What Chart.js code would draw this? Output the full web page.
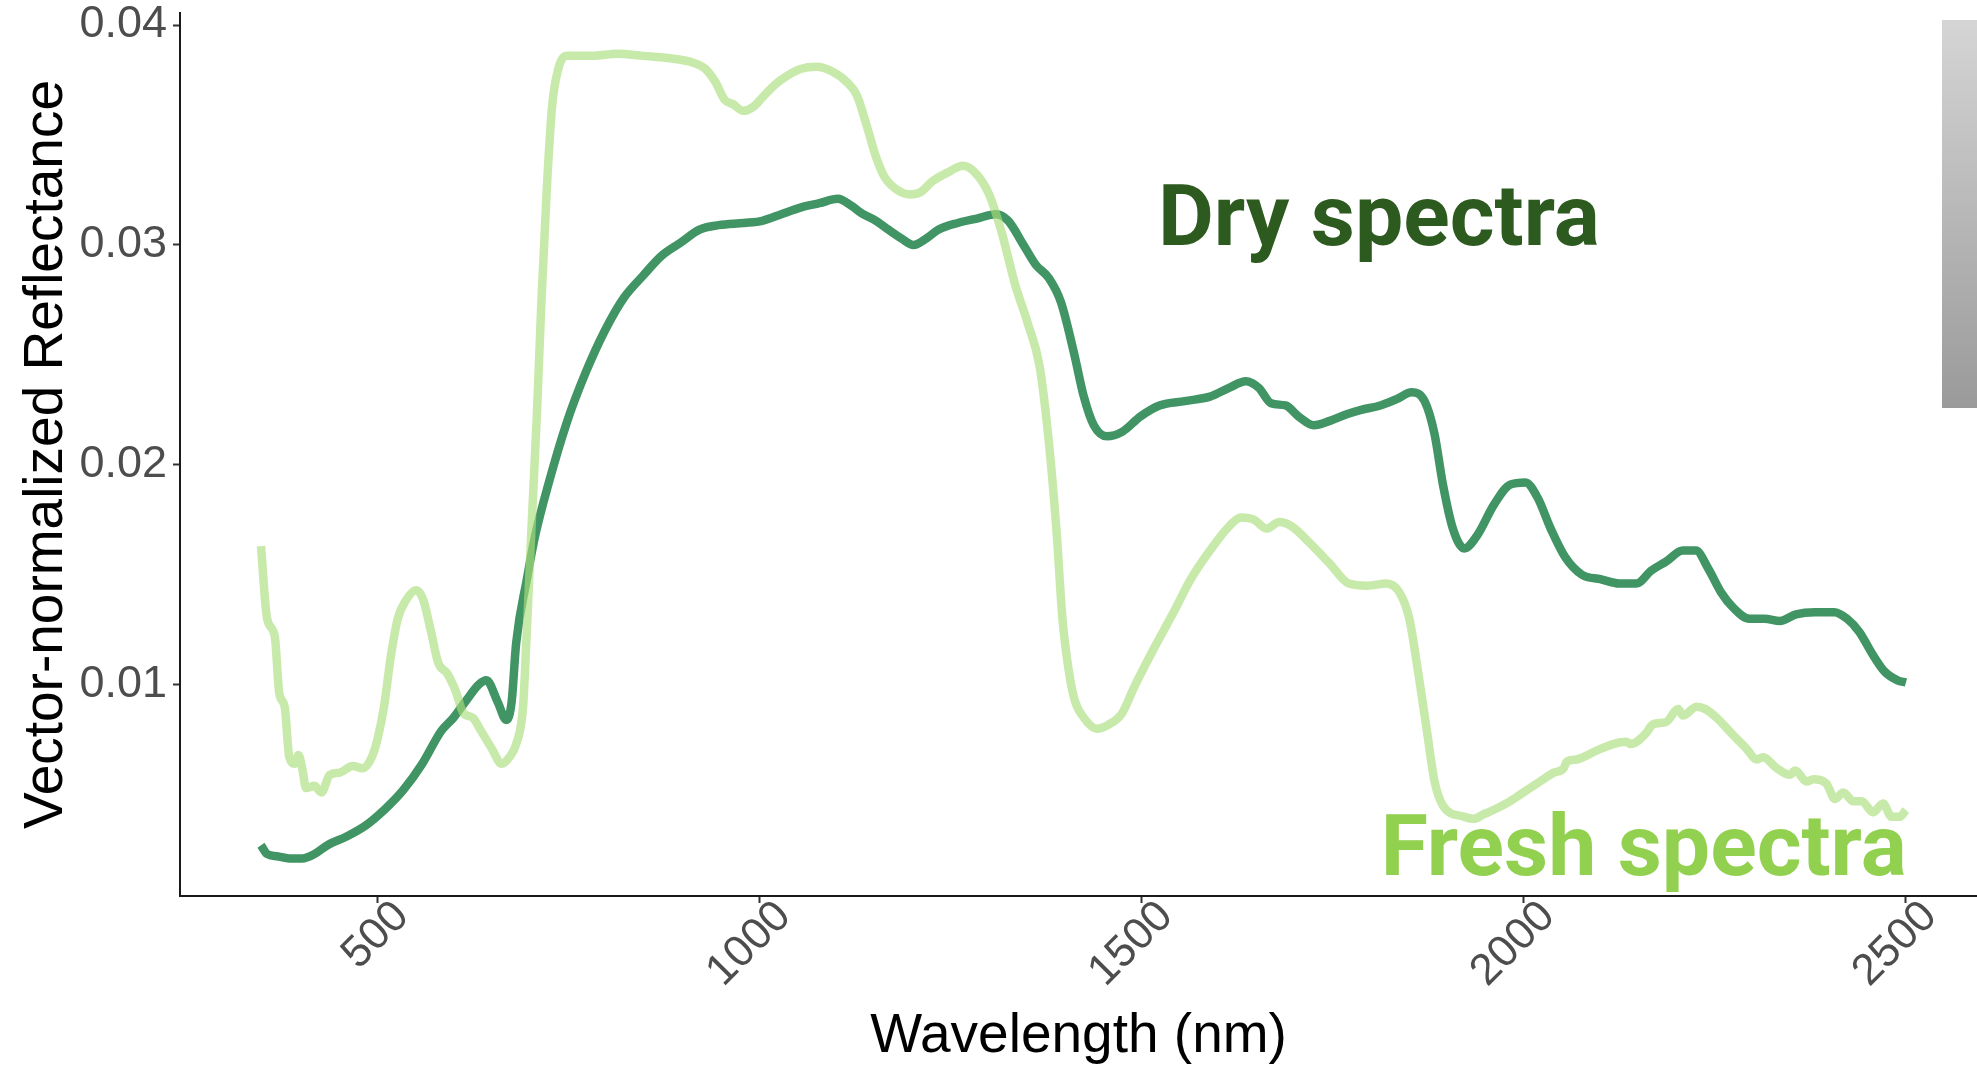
<!DOCTYPE html>
<html>
<head>
<meta charset="utf-8">
<title>Dry vs fresh spectra</title>
<script src="https://cdn.jsdelivr.net/npm/chart.js@4.4.1/dist/chart.umd.min.js"></script>
<style>
  html, body { margin: 0; padding: 0; background: #fff; }
  #wrap { width: 1977px; height: 1067px; }
</style>
</head>
<body>
<div id="wrap"><canvas id="spectraChart" width="1977" height="1067"></canvas></div>
<script>
/* DATA */
const freshNm = [347, 355, 365, 371, 378, 384, 391, 396, 401, 406, 417, 426, 437, 450, 467, 480, 492,
  500, 508, 517, 526, 536, 550, 559, 569, 579, 591, 602, 612, 624, 635, 649, 662, 672, 681, 690,
  695, 701, 708, 714, 721, 728, 736, 747, 780, 814, 847, 880, 912, 929, 942, 954, 965, 978, 992,
  1003, 1020, 1036, 1053, 1074, 1094, 1114, 1127, 1140, 1152, 1163, 1180, 1196, 1210, 1226, 1246,
  1266, 1284, 1300, 1317, 1334, 1350, 1366, 1378, 1388, 1396, 1404, 1412, 1424, 1441, 1457, 1474,
  1490, 1515, 1540, 1564, 1589, 1614, 1630, 1647, 1663, 1680, 1696, 1721, 1746, 1771, 1795, 1820,
  1837, 1850, 1861, 1873, 1883, 1894, 1921, 1934, 1947, 1960, 1977, 1995, 2021, 2039, 2052, 2056,
  2069, 2095, 2117, 2134, 2140, 2160, 2169, 2186, 2202, 2208, 2226, 2237, 2252, 2274, 2291, 2305,
  2313, 2331, 2348, 2355, 2370, 2379, 2396, 2407, 2418, 2431, 2442, 2457, 2470, 2481, 2492, 2500]
const freshVals = [0.0163, 0.0130, 0.0122, 0.0096, 0.0090, 0.0067, 0.0064, 0.0068, 0.0062, 0.0053,
  0.0054, 0.0051, 0.0059, 0.0060, 0.0063, 0.0062, 0.0067,
  0.0076, 0.0090, 0.0113, 0.0130, 0.0138, 0.0143, 0.0139, 0.0125, 0.0110, 0.0105, 0.0097, 0.0087,
  0.0085, 0.0079, 0.0071, 0.0064, 0.0067, 0.0073, 0.0090,
  0.0125, 0.0171, 0.0222, 0.0274, 0.0325, 0.0363, 0.0380, 0.0386, 0.0386, 0.0387, 0.0386, 0.0385,
  0.0383, 0.0380, 0.0374, 0.0366, 0.0364, 0.0361, 0.0363,
  0.0367, 0.0373, 0.0377, 0.0380, 0.0381, 0.0379, 0.0374, 0.0368, 0.0354, 0.0340, 0.0331, 0.0325,
  0.0323, 0.0324, 0.0329, 0.0333,
  0.0336, 0.0332, 0.0323, 0.0305, 0.0282, 0.0265, 0.0245, 0.0211, 0.0171, 0.0130, 0.0107, 0.0093,
  0.0085, 0.0080, 0.0082, 0.0087,
  0.0099, 0.0116, 0.0132, 0.0148, 0.0161, 0.0172, 0.0176, 0.0175, 0.0171, 0.0174, 0.0172, 0.0164,
  0.0155, 0.0146, 0.0145, 0.0146,
  0.0142, 0.0130, 0.0107, 0.0079, 0.0056, 0.0045, 0.0040, 0.0039, 0.0041, 0.0043, 0.0046, 0.0050,
  0.0056, 0.0060, 0.0062, 0.0065,
  0.0066, 0.0070, 0.0073, 0.0074, 0.0073, 0.0078, 0.0082, 0.0083, 0.0089, 0.0086, 0.0090, 0.0089,
  0.0085, 0.0077, 0.0071, 0.0066,
  0.0067, 0.0062, 0.0059, 0.0061, 0.0056, 0.0057, 0.0055, 0.0048, 0.0051, 0.0047, 0.0047, 0.0042,
  0.0046, 0.0040, 0.0040, 0.0043]

const dryNm = [347, 355, 368, 384, 401, 417, 434, 459, 484, 508, 533, 558, 583, 599, 616, 632, 642,
  657, 668, 675, 681, 695, 706, 723, 747, 772, 797, 822, 847, 871, 896, 921, 946, 979, 1003, 1028,
  1053, 1078, 1102, 1119, 1135, 1152, 1168, 1185, 1201, 1218, 1234, 1259, 1284, 1309, 1325, 1345,
  1361, 1378, 1394, 1411, 1424, 1437, 1454, 1474, 1498, 1523, 1556, 1589, 1614, 1636, 1653, 1669,
  1688, 1705, 1725, 1746, 1768, 1787, 1812, 1834, 1853, 1870, 1883, 1894, 1907, 1922, 1939, 1961,
  1982, 2002, 2018, 2035, 2054, 2076, 2100, 2125, 2147, 2167, 2186, 2208, 2225, 2241, 2258, 2274,
  2295, 2315, 2335, 2356, 2381, 2406, 2423, 2439, 2456, 2472, 2489, 2500]
const dryVals = [0.0027, 0.0023, 0.0022, 0.0021, 0.0021, 0.0023, 0.0027, 0.0031, 0.0036, 0.0043,
  0.0052, 0.0064, 0.0079, 0.0085, 0.0093, 0.0100, 0.0102,
  0.0092, 0.0084, 0.0092, 0.0119, 0.0148, 0.0168, 0.0191, 0.0219, 0.0242, 0.0261, 0.0276, 0.0286,
  0.0295, 0.0301, 0.0307, 0.0309, 0.0310, 0.0311, 0.0314,
  0.0317, 0.0319, 0.0321, 0.0318, 0.0314, 0.0311, 0.0307, 0.0303, 0.0300, 0.0303, 0.0307, 0.0310,
  0.0312, 0.0314, 0.0311, 0.0300,
  0.0291, 0.0285, 0.0274, 0.0251, 0.0231, 0.0218, 0.0213, 0.0215, 0.0222, 0.0227, 0.0229, 0.0231,
  0.0235, 0.0238, 0.0235, 0.0228,
  0.0227, 0.0222, 0.0218, 0.0220, 0.0223, 0.0225, 0.0227, 0.0230, 0.0233, 0.0229, 0.0214, 0.0191,
  0.0171, 0.0162, 0.0168, 0.0182,
  0.0191, 0.0192, 0.0185, 0.0171, 0.0158, 0.0150, 0.0148, 0.0146, 0.0146, 0.0152, 0.0156, 0.0161,
  0.0161, 0.0153, 0.0142, 0.0135,
  0.0130, 0.0130, 0.0129, 0.0132, 0.0133, 0.0133, 0.0130, 0.0124, 0.0114, 0.0106, 0.0102, 0.0101]

const xTicks = [500, 1000, 1500, 2000, 2500]
const yTicks = [0.01, 0.02, 0.03, 0.04]

const colors = {
    dry: "#419463",
    fresh: "rgba(169, 221, 123, 0.65)",
    dryText: "#2d5a1e",
    freshText: "#92d050",
    tick: "#4d4d4d",
    axis: "#1a1a1a"
}

const FONT = "'Liberation Sans', Arial, sans-serif"

function toPoints(xs, ys) {
    return xs.map(function(x, i) { return { x: x, y: ys[i] } })
}

// ggplot-style axes: no scale padding, fixed box sizes
function fixBox(size) {
    return function(scale) {
        if (scale.isHorizontal()) scale.height = size
        else scale.width = size
        scale.paddingTop = 0
        scale.paddingBottom = 0
        scale.paddingLeft = 0
        scale.paddingRight = 0
    }
}

/* labels inside the plot + grey strip on the right */
const labelPlugin = {
    id: 'spectraLabels',
    afterDraw: function(chart) {
        const c = chart.ctx
        const x = chart.scales.x
        const y = chart.scales.y
        c.save()
        const g = c.createLinearGradient(0, 20, 0, 408)
        g.addColorStop(0, '#d5d5d5')
        g.addColorStop(1, '#9a9a9a')
        c.fillStyle = g
        c.fillRect(1942, 20, 35, 388)

        c.font = "bold 86px Roboto, 'Liberation Sans', sans-serif"
        c.textBaseline = 'alphabetic'
        c.fillStyle = colors.dryText
        c.textAlign = 'left'
        c.fillText('Dry spectra', x.getPixelForValue(1521), y.getPixelForValue(0.0300))
        c.fillStyle = colors.freshText
        c.textAlign = 'right'
        c.fillText('Fresh spectra', x.getPixelForValue(2501), y.getPixelForValue(0.00134))
        c.restore()
    }
}

const ctx = document.getElementById('spectraChart').getContext('2d')
const spectraChart = new Chart(ctx, {
    type: 'line',
    data: {
        datasets: [
        {
            label: 'Fresh spectra',
            data: toPoints(freshNm, freshVals),
            borderColor: colors.fresh,
            borderWidth: 8.5,
            pointRadius: 0,
            cubicInterpolationMode: 'monotone',
            borderCapStyle: 'butt',
            borderJoinStyle: 'round',
            fill: false
        },
        {
            label: 'Dry spectra',
            data: toPoints(dryNm, dryVals),
            borderColor: colors.dry,
            borderWidth: 8.5,
            pointRadius: 0,
            cubicInterpolationMode: 'monotone',
            borderCapStyle: 'butt',
            borderJoinStyle: 'round',
            fill: false
        }]
    },
    options: {
        responsive: false,
        animation: false,
        devicePixelRatio: 1,
        layout: { padding: { top: 13, right: 0, bottom: 0, left: 0 } },
        plugins: {
            legend: { display: false },
            tooltip: { enabled: false }
        },
        scales: {
            x: {
                type: 'linear',
                min: 241,
                max: 2593,
                afterBuildTicks: function(s) { s.ticks = xTicks.map(function(v) { return { value: v } }) },
                afterFit: fixBox(171),
                ticks: {
                    autoSkip: false,
                    minRotation: 45,
                    maxRotation: 45,
                    color: colors.tick,
                    font: { family: FONT, size: 44 },
                    padding: -12,
                    labelOffset: 24,
                    callback: function(v) { return String(v) }
                },
                grid: { drawOnChartArea: false, tickLength: 7, tickColor: '#333', tickWidth: 2 },
                border: { display: true, color: colors.axis, width: 2 },
                title: {
                    display: true,
                    text: 'Wavelength (nm)',
                    color: '#000',
                    font: { family: FONT, size: 55, lineHeight: 1.1 },
                    padding: { top: 0, bottom: 0 }
                }
            },
            y: {
                min: 0.00039,
                max: 0.04055,
                afterBuildTicks: function(s) { s.ticks = yTicks.map(function(v) { return { value: v } }) },
                afterFit: fixBox(180),
                ticks: {
                    color: colors.tick,
                    font: { family: FONT, size: 45 },
                    padding: 6,
                    callback: function(v) { return v.toFixed(2) }
                },
                grid: { drawOnChartArea: false, tickLength: 7, tickColor: '#333', tickWidth: 2 },
                border: { display: true, color: colors.axis, width: 2 },
                title: {
                    display: true,
                    text: 'Vector-normalized Reflectance',
                    color: '#000',
                    font: { family: FONT, size: 55 },
                    padding: { top: 14, bottom: 0 }
                }
            }
        }
    },
    plugins: [labelPlugin]
})
</script>
</body>
</html>
